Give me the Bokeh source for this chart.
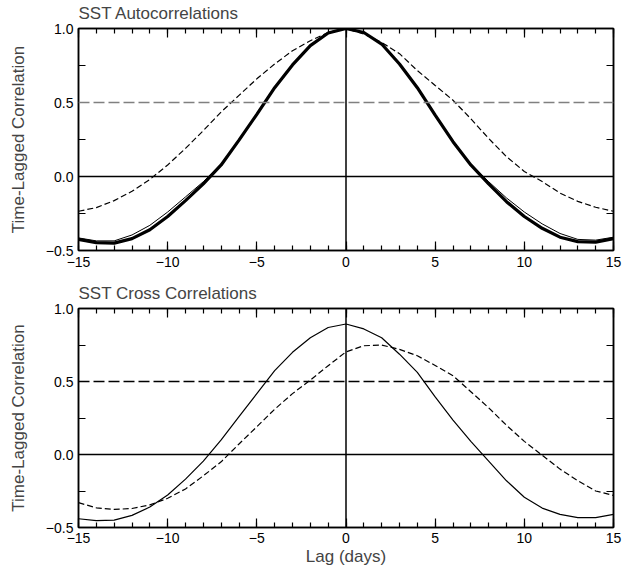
from bokeh.plotting import figure
from bokeh.layouts import column
from bokeh.models import Range1d, LinearAxis, SingleIntervalTicker, Span, CustomLabelingPolicy
from bokeh.embed import file_html
from bokeh.resources import INLINE

# ---------------- data ----------------
lags = list(range(-15, 16))

auto_thick = [-0.425, -0.447, -0.45, -0.42, -0.36, -0.27, -0.163, -0.05, 0.078, 0.246,
              0.42, 0.60, 0.754, 0.884, 0.97, 1.0, 0.973, 0.895, 0.76, 0.60,
              0.414, 0.235, 0.078, -0.05, -0.17, -0.27, -0.35, -0.41, -0.44, -0.443, -0.42]
auto_thin = [-0.415, -0.435, -0.435, -0.395, -0.33, -0.24, -0.138, -0.035, 0.083, 0.248,
             0.42, 0.60, 0.754, 0.884, 0.97, 1.0, 0.973, 0.895, 0.76, 0.60,
             0.414, 0.237, 0.083, -0.035, -0.145, -0.24, -0.32, -0.385, -0.425, -0.43, -0.41]
auto_dash = [-0.235, -0.21, -0.163, -0.10, -0.02, 0.078, 0.19, 0.31, 0.436, 0.548,
             0.66, 0.76, 0.85, 0.917, 0.973, 1.0, 0.962, 0.906, 0.83, 0.716,
             0.615, 0.515, 0.39, 0.257, 0.134, 0.034, -0.034, -0.112, -0.168, -0.208, -0.235]

cross_solid = [-0.44, -0.453, -0.45, -0.417, -0.36, -0.277, -0.169, -0.045, 0.10, 0.26,
               0.417, 0.574, 0.70, 0.80, 0.87, 0.894, 0.86, 0.80, 0.687, 0.563,
               0.394, 0.236, 0.09, -0.045, -0.18, -0.293, -0.367, -0.41, -0.432, -0.432, -0.41]
cross_dash = [-0.33, -0.365, -0.376, -0.37, -0.345, -0.30, -0.236, -0.146, -0.05, 0.072,
              0.19, 0.31, 0.417, 0.51, 0.608, 0.703, 0.745, 0.75, 0.72, 0.676,
              0.61, 0.54, 0.43, 0.32, 0.20, 0.09, -0.005, -0.10, -0.18, -0.25, -0.28]

ref_level = 0.5
zero_level = 0.0

x_tick_labels = {-15: "\u221215", -10: "\u221210", -5: "\u22125", 0: "0", 5: "5", 10: "10", 15: "15"}
y_tick_labels = {-0.5: "\u22120.5", 0: "0.0", 0.5: "0.5", 1: "1.0"}

titles = ["SST Autocorrelations", "SST Cross Correlations"]
ylabel = "Time-Lagged Correlation"
xlabel = "Lag (days)"

FONT = "Liberation Sans"
NO_LABELS = "for (const i of indices) { indices.unset(i) }\nreturn indices"


def make_fig(height, top, bottom, title, show_xlabel):
    p = figure(width=628, height=height, x_range=Range1d(-15, 15), y_range=Range1d(-0.5, 1.0),
               output_backend="svg", toolbar_location=None,
               min_border_left=78, min_border_right=15, min_border_top=top, min_border_bottom=bottom,
               x_axis_location=None, y_axis_location=None)
    p.grid.visible = False
    p.outline_line_color = "black"
    p.outline_line_width = 1.5
    p.background_fill_color = "white"
    p.border_fill_color = "white"

    p.title.text = title
    p.title.text_font = FONT
    p.title.text_font_size = "17px"
    p.title.text_font_style = "normal"
    p.title.align = "left"
    p.title.standoff = 3

    def style(ax, labels):
        ax.axis_line_color = "black"
        ax.axis_line_width = 1.5
        ax.major_tick_in = 9
        ax.major_tick_out = 0
        ax.minor_tick_in = 5
        ax.minor_tick_out = 0
        ax.major_tick_line_width = 1.2
        ax.minor_tick_line_width = 1.2
        ax.major_label_text_font = FONT
        ax.major_label_text_font_size = "14px"
        ax.major_label_text_color = "black"
        ax.axis_label_text_font = FONT
        ax.axis_label_text_font_size = "17px"
        ax.axis_label_text_font_style = "normal"
        if not labels:
            ax.major_label_text_font_size = "1px"
            ax.major_label_standoff = 0
            ax.major_label_policy = CustomLabelingPolicy(code=NO_LABELS)

    xt = SingleIntervalTicker(interval=5, num_minor_ticks=5)
    yt = SingleIntervalTicker(interval=0.5, num_minor_ticks=2)

    bx = LinearAxis(ticker=xt, major_label_overrides=x_tick_labels)
    style(bx, True)
    bx.major_label_standoff = 6
    if show_xlabel:
        bx.axis_label = xlabel
        bx.axis_label_standoff = 1
        bx.major_label_standoff = 5
    p.add_layout(bx, "below")

    tx = LinearAxis(ticker=xt)
    style(tx, False)
    p.add_layout(tx, "above")

    ly = LinearAxis(ticker=yt, major_label_overrides=y_tick_labels, axis_label=ylabel)
    style(ly, True)
    ly.minor_tick_in = 7
    ly.major_label_standoff = 5
    ly.axis_label_standoff = 15
    p.add_layout(ly, "left")

    ry = LinearAxis(ticker=yt)
    style(ry, False)
    ry.minor_tick_in = 7
    p.add_layout(ry, "right")

    p.add_layout(Span(location=zero_level, dimension="width", line_color="black", line_width=1.5))
    p.add_layout(Span(location=zero_level, dimension="height", line_color="black", line_width=1.5))
    return p


p1 = make_fig(280, 28, 30, titles[0], False)
p1.add_layout(Span(location=ref_level, dimension="width", line_color="#808080",
                   line_width=1.3, line_dash="11 4"))
p1.line(lags, auto_dash, line_color="black", line_width=1.2, line_dash="6 3")
p1.line(lags, auto_thin, line_color="black", line_width=1.0)
p1.line(lags, auto_thick, line_color="black", line_width=3.2)

p2 = make_fig(288, 27, 41, titles[1], True)
p2.add_layout(Span(location=ref_level, dimension="width", line_color="black",
                   line_width=1.3, line_dash="11 4"))
p2.line(lags, cross_dash, line_color="black", line_width=1.2, line_dash="6 3")
p2.line(lags, cross_solid, line_color="black", line_width=1.2)

layout = column(p1, p2, spacing=0)
open("out.html", "w").write(file_html(layout, INLINE))
